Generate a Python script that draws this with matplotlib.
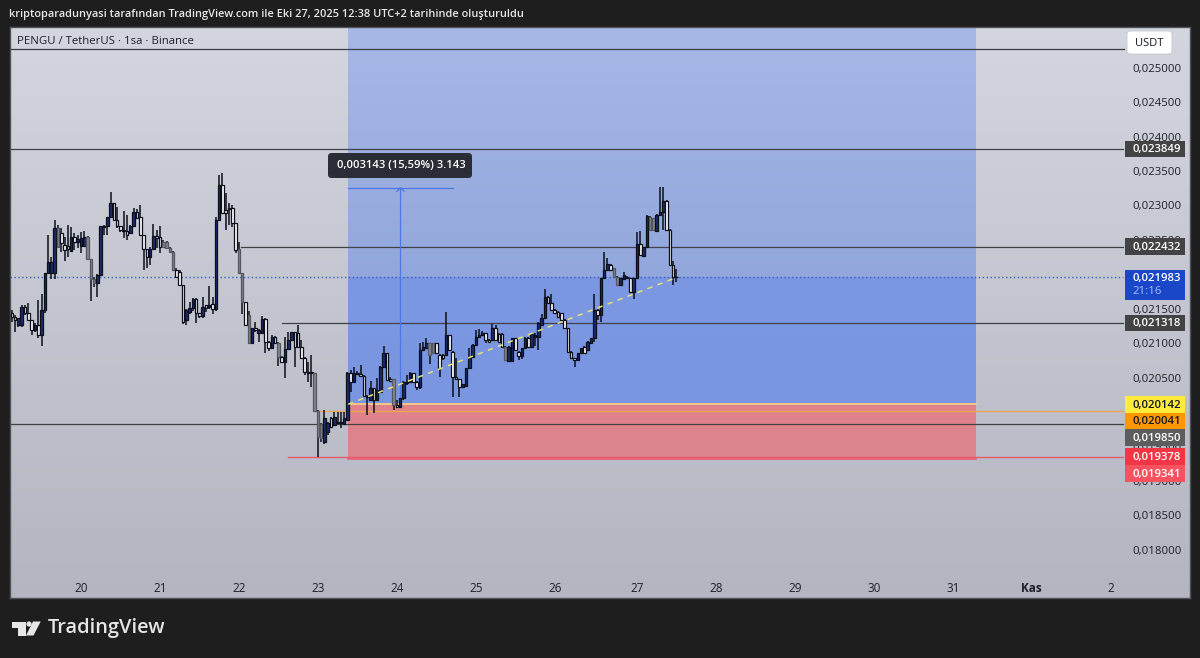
import numpy as np
import matplotlib
matplotlib.use('Agg')
import matplotlib.pyplot as plt
from matplotlib.patches import Rectangle, FancyBboxPatch, Polygon, Ellipse
from matplotlib.transforms import ScaledTranslation

plt.rcParams['font.family'] = ['Open Sans', 'DejaVu Sans']

# candles, 1 hour each, in millionths of a dollar
opens = [21462,21414,21293,21293,21559,21462,21366,21220,21293,21148,
 21511,22053,22053,22053,22697,22624,22455,22440,22372,22566,
 22503,22440,22440,22576,22246,21956,21898,22019,22730,22730,
 22866,23060,22818,22730,22672,22662,22624,22730,22939,22866,
 22600,22392,22276,22392,22585,22566,22503,22503,22406,22358,
 22092,22067,21874,21366,21487,21535,21670,21462,21428,21583,
 21559,21598,21520,22818,23326,22963,22987,22987,22769,22397,
 22043,21632,21438,21036,21245,21172,21172,21380,21051,20954,
 21124,21027,20833,20751,20940,21075,21187,21172,20978,20809,
 20615,20615,20591,20049,19856,19599,19744,19938,19841,19889,
 19865,19856,19914,20592,20471,20592,20582,20553,20262,20204,
 20374,20204,20325,20688,20882,20505,20505,20132,20098,20228,
 20446,20471,20592,20471,20398,20930,20955,21027,21027,21027,
 20858,20858,20858,21148,20906,20543,20505,20398,20408,20664,
 20834,21003,21124,21148,21172,21076,21076,21245,21163,21163,
 20979,20775,20775,21100,20906,20843,20964,21110,20979,21124,
 21124,21293,21390,21705,21608,21511,21487,21463,21366,21245,
 20906,20809,20785,20882,20979,20930,21037,21100,21511,21438,
 21971,22092,22165,22116,21995,21874,21957,21985,21971,21777,
 21971,22470,22295,22421,22866,22842,22663,22891,22939,23099,22673,22165,21995]
highs = [21511,21438,21390,21583,21583,21617,21366,21317,21656,21743,
 22053,22600,22276,22818,22745,22697,22576,22745,22721,22624,
 22600,22648,22663,22585,22246,21995,22033,22730,22745,22866,
 23229,23060,23001,22730,22948,22890,22745,22987,22972,23035,
 22600,22392,22430,22760,22672,22730,22525,22510,22420,22370,
 22116,22085,21880,21520,21632,21680,21680,21470,21704,21590,
 21859,21704,22866,23471,23505,23205,23069,23035,22769,22503,
 22043,21632,21490,21250,21341,21230,21428,21390,21060,21148,
 21135,21040,20840,21124,21196,21196,21196,21293,21075,20830,
 20760,20857,20600,20060,19870,20059,19880,19950,20035,20035,
 20035,20035,20616,20640,20688,20620,20713,20560,20270,20485,
 20380,20519,20700,20988,20890,20545,20510,20200,20235,20480,
 20567,20616,20600,20480,21037,21051,21100,21035,21035,21035,
 20870,20870,21487,21155,20920,20809,20510,20440,20670,20955,
 21010,21221,21230,21200,21180,21090,21308,21293,21180,21170,
 20990,20990,21110,21110,20915,20965,21120,21120,21170,21172,
 21330,21453,21811,21715,21744,21530,21495,21470,21375,21250,
 20915,20815,20890,20965,20990,21060,21110,21744,21520,21980,
 22349,22261,22175,22125,22005,21980,22068,22010,21980,21980,
 22649,22663,22430,22885,22880,22850,22900,23302,23302,23110,22680,22228,22102]
lows = [21341,21196,21269,21269,21438,21366,21148,21196,21099,20988,
 21462,22053,21956,21956,22421,22358,22227,22285,22358,22382,
 22406,22334,22440,22237,21646,21850,21704,22019,22600,22600,
 22866,22818,22700,22648,22551,22527,22614,22730,22842,22600,
 22092,22116,22164,22392,22406,22334,22420,22390,22340,22080,
 21985,21865,21308,21293,21450,21500,21327,21390,21390,21480,
 21530,21453,21500,22800,22914,22672,22745,22720,22334,22043,
 21453,21293,21030,21030,21190,21051,21172,20882,20920,20940,
 21010,20698,20740,20519,20930,21060,20678,20960,20795,20567,
 20470,20398,20040,19381,19600,19560,19700,19800,19830,19850,
 19793,19840,19900,20325,20460,20560,20540,20250,19987,20190,
 20011,20190,20300,20680,20480,20470,20059,20085,20085,20200,
 20420,20460,20460,20350,20370,20920,20940,20722,20870,20870,
 20534,20780,20850,20915,20253,20490,20253,20380,20395,20650,
 20820,20995,21115,21135,21027,21040,21060,21060,21040,20960,
 20770,20760,20765,20920,20785,20800,20955,20970,20970,20983,
 20930,21280,21380,21600,21500,21450,21405,21355,21235,20900,
 20800,20679,20770,20870,20880,20920,21025,21051,21366,21342,
 21960,22085,22080,21985,21860,21860,21950,21960,21770,21666,
 21960,22300,22285,22410,22660,22660,22650,22880,22673,22660,22155,21874,21922]
closes = [21414,21366,21390,21559,21462,21366,21220,21293,21148,21511,
 22053,22213,22213,22697,22421,22479,22382,22392,22566,22503,
 22537,22551,22566,22246,21956,21898,22019,22730,22711,22866,
 23060,22818,22730,22672,22662,22600,22730,22939,22842,22600,
 22392,22276,22392,22585,22551,22430,22430,22406,22358,22092,
 21995,21874,21341,21511,21535,21670,21462,21428,21559,21535,
 21583,21520,22818,23326,22914,22914,22972,22769,22382,22043,
 21632,21293,21036,21245,21220,21220,21380,21051,20954,21124,
 21027,20833,20751,20940,21075,21187,20978,20978,20809,20615,
 20601,20591,20049,19672,19647,19938,19865,19817,19962,19865,
 19889,19938,20592,20471,20592,20582,20553,20262,20252,20374,
 20204,20350,20688,20882,20495,20485,20132,20098,20228,20471,
 20471,20601,20471,20398,20930,20979,21027,20858,20882,20882,
 20664,20809,21148,20930,20543,20505,20398,20432,20664,20834,
 21003,21124,21148,21172,21076,21051,21245,21076,21051,20979,
 20785,20979,21100,20930,20843,20955,21110,20979,21158,21148,
 21318,21390,21705,21608,21511,21463,21414,21366,21245,20906,
 20809,20785,20882,20955,20892,21051,21100,21511,21438,21971,
 22092,22179,22092,21995,21874,21971,22019,21971,21777,21971,
 22470,22310,22421,22876,22673,22673,22891,22939,23099,22673,22165,21995,21983]
first_hour = -21
# candles that show as grey in the picture
grey_candles = [15,24,25,26,47,48,49,50,70,71,73,82,93,94,95,117,128,129,151,184,185,195,196]

price_ticks = [0.025,0.0245,0.024,0.0235,0.023,0.0225,0.022,0.0215,0.021,0.0205,0.02,0.0195,0.019,0.0185,0.018]
day_ticks = [0,24,48,72,96,120,144,169,193,217,241,265,289,313]
day_labels = ['20','21','22','23','24','25','26','27','28','29','30','31','Kas','2']

top_line = 0.0253
level_prices = [0.023849,0.022432,0.021318,0.019850]
level_starts = [-21.5,48.5,61.2,-21.5]
current_price = 0.021983
entry_price = 0.020142
stop_price = 0.019341
orange_price = 0.020041
red_price = 0.019378
measure_price = 0.023285
position_start = 81.2
position_end = 272.0
measure_x = 97.1
measure_end = 113.0

label_texts = ['0,023849','0,022432','0,021318','0,020142','0,020041','0,019850','0,019378','0,019341']
label_centers = [149,246.5,323,404.5,421,437.5,456.5,473.5]
label_colors = ['#434343','#434343','#434343','#ffeb3b','#ff9800','#5d5d5d','#f23645','#f7525f']
label_text_colors = ['white','white','white','#131722','#131722','white','white','white']

W, H = 1200, 658
fig = plt.figure(figsize=(12, 6.58), dpi=100, facecolor='#1e1e1e')


def fx(x):
    return x / W


def fy(y):
    return 1 - y / H


ax = fig.add_axes([fx(10), fy(598), fx(1180), 571 / H])


def gradient(x0, x1, y0, y1, c_top, c_bot, z):
    a = np.array(matplotlib.colors.to_rgb(c_top))
    b = np.array(matplotlib.colors.to_rgb(c_bot))
    t = np.linspace(0, 1, 128)[:, None, None]
    img = a[None, None, :] * (1 - t) + b[None, None, :] * t
    ax.imshow(img, extent=[x0, x1, y0, y1], aspect='auto', zorder=z, origin='upper')


gradient(-21.58, 337.08, 0.017329, 0.02562, '#d3d6df', '#b3b6c0', 0)
gradient(position_start, position_end, current_price, 0.02562, '#a7b8e6', '#92a7dc', 1)
gradient(position_start, position_end, entry_price, current_price, '#7c98e2', '#7a96e0', 1)
gradient(position_start, position_end, stop_price, entry_price, '#e2828a', '#d98590', 1)
ax.set_xlim(-21.58, 337.08)
ax.set_ylim(0.017329, 0.02562)

# horizontal levels run up to the price scale
line_end = (1123 - 81) / 3.29
ax.plot([-21.58, (1124 - 81) / 3.29], [top_line, top_line], color='#3a3d45', lw=0.9, zorder=2)
for p, s in zip(level_prices, level_starts):
    ax.plot([s, line_end], [p, p], color='#3f4147', lw=0.9, zorder=2)
ax.plot([-21.58, line_end], [current_price, current_price], color='#3c5cc0', lw=1, ls=(0, (1, 1.8)), zorder=2)
ax.plot([(320 - 81) / 3.29, line_end], [orange_price, orange_price], color='#e8a850', lw=1, zorder=2)
ax.plot([position_start, position_end], [entry_price, entry_price], color='#f2d58a', lw=1.2, zorder=2)
ax.plot([(288 - 81) / 3.29, line_end], [red_price, red_price], color='#e8586a', lw=1, zorder=2)
ax.plot([position_start, position_end], [stop_price, stop_price], color='#e85f73', lw=1.2, zorder=2)

# measure tool
ax.plot([position_start, measure_end], [measure_price, measure_price], color='#4a78e6', lw=0.9, zorder=2.2)
ax.plot([measure_x, measure_x], [entry_price, measure_price], color='#4a78e6', lw=0.9, zorder=2.2)
ax.plot([measure_x - 1.1, measure_x, measure_x + 1.1], [measure_price - 0.00005, measure_price, measure_price - 0.00005],
        color='#4a78e6', lw=0.9, zorder=2.2)

# candles
o = np.array(opens) * 1e-6
h = np.array(highs) * 1e-6
l = np.array(lows) * 1e-6
c = np.array(closes) * 1e-6
t = first_hour + np.arange(len(o))
face = np.where(c >= o, '#1c2c6e', '#ffffff').astype(object)
edge = np.full(len(o), '#0c0f1a', dtype=object)
for n in grey_candles:
    face[n - 1] = '#85878f'
    edge[n - 1] = '#55575e'
ax.vlines(t, l, h, colors='#0c0f1a', lw=1.1, zorder=3)
body_low = np.minimum(o, c)
body_h = np.maximum(np.abs(c - o), 0.000012)
ax.bar(t, body_h, width=0.78, bottom=body_low, color=list(face), edgecolor=list(edge), linewidth=0.9, zorder=3.2)

# trend line of the position tool
ax.plot([position_start, t[-1]], [entry_price, current_price], color='#e6e27a', lw=1.1, ls=(0, (3.5, 3.5)), zorder=3.5)

# axes look
ax.yaxis.tick_right()
ax.set_yticks(price_ticks)
ax.set_yticklabels([('%.6f' % p).replace('.', ',') for p in price_ticks])
ax.tick_params(axis='y', length=0, pad=-41.3, labelsize=8.2, labelcolor='#1f2026')
for lab in ax.get_yticklabels():
    lab.set_transform(lab.get_transform() + ScaledTranslation(0, 2 / 100, fig.dpi_scale_trans))
ax.set_xticks(day_ticks)
ax.set_xticklabels(day_labels)
ax.tick_params(axis='x', length=0, pad=-11.5, labelsize=8.5, labelcolor='#1f2026')
ax.get_xticklabels()[12].set_fontweight('bold')
for s in ax.spines.values():
    s.set_color('#50525a')
    s.set_linewidth(1)

# price labels on the scale
tr = fig.transFigure
for txt, yc, col, tc in zip(label_texts, label_centers, label_colors, label_text_colors):
    ax.add_patch(Rectangle((fx(1125), fy(yc + 8.3)), 60 / W, 16.6 / H, transform=tr, color=col, lw=0, zorder=6, clip_on=False))
    ax.text(fx(1132.7), fy(yc + 0.8), txt, transform=tr, color=tc, fontsize=8.2, fontweight='semibold', ha='left', va='center', zorder=7)
ax.add_patch(Rectangle((fx(1125), fy(300)), 60 / W, 30 / H, transform=tr, color='#1a46c8', lw=0, zorder=6, clip_on=False))
ax.text(fx(1132.7), fy(278), '0,021983', transform=tr, color='white', fontsize=8.2, fontweight='semibold', ha='left', va='center', zorder=7)
ax.text(fx(1132.7), fy(291.5), '21:16', transform=tr, color='#a9c0ff', fontsize=8.2, ha='left', va='center', zorder=7)

ax.add_patch(FancyBboxPatch((fx(1127), fy(54)), 45 / W, 23 / H, transform=tr, boxstyle='round,pad=0,rounding_size=0.003',
                            facecolor='white', edgecolor='#c8c9ce', lw=0.6, zorder=6, clip_on=False, mutation_aspect=1.8))
ax.text(fx(1149.5), fy(43.5), 'USDT', transform=tr, color='#131722', fontsize=8, ha='center', va='center', zorder=7)

# tooltip of the measure tool
ax.add_patch(FancyBboxPatch((fx(328), fy(178)), 144 / W, 25 / H, transform=tr, boxstyle='round,pad=0,rounding_size=0.003',
                            facecolor='#2a2d35', edgecolor='none', zorder=6, clip_on=False, mutation_aspect=1.8))
ax.text(fx(401), fy(165.5), '0,003143 (15,59%) 3.143', transform=tr, color='white', fontsize=8.1, fontweight='semibold',
        ha='center', va='center', zorder=7)

ax.text(fx(17), fy(41), 'PENGU / TetherUS · 1sa · Binance', transform=tr, color='#1f2026', fontsize=8.2, ha='left', va='center', zorder=7)
fig.text(fx(9), fy(14.5), 'kriptoparadunyasi tarafından TradingView.com ile Eki 27, 2025 12:38 UTC+2 tarihinde oluşturuldu',
         color='#e8e8e8', fontsize=7.9, fontweight='semibold', ha='left', va='center')

# TradingView logo
logo = '#e6e6e6'
fig.add_artist(Polygon([[fx(12), fy(621.5)], [fx(25.5), fy(621.5)], [fx(25.5), fy(635.5)], [fx(18), fy(635.5)],
                        [fx(18), fy(627.5)], [fx(12), fy(627.5)]], closed=True, color=logo, lw=0))
fig.add_artist(Polygon([[fx(33), fy(621.5)], [fx(40.7), fy(621.5)], [fx(33.5), fy(635.5)], [fx(26), fy(635.5)]], closed=True, color=logo, lw=0))
fig.add_artist(Ellipse((fx(29), fy(624)), 5.2 / W, 5.2 / H, color=logo, lw=0))
fig.text(fx(47.5), fy(628.5), 'TradingView', color=logo, fontsize=14.4, fontweight='semibold', ha='left', va='center')

fig.savefig('out.png', dpi=100, facecolor=fig.get_facecolor())
